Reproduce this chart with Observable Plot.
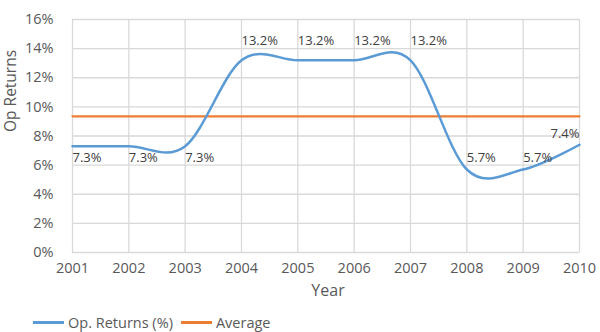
<!DOCTYPE html>
<html>
<head>
<meta charset="utf-8">
<script src="https://cdn.jsdelivr.net/npm/d3@7"></script>
<script src="https://cdn.jsdelivr.net/npm/@observablehq/plot@0.6"></script>
<style>
  body { margin: 0; background: #fff; font-family: "Open Sans", sans-serif; }
  #chart svg { display: block; }
  .legend { display: flex; align-items: center; height: 20px; padding-left: 33px; font-size: 14.5px; color: #595959; }
  .legend .sw { width: 31px; height: 3px; margin-right: 4px; }
  .legend .item { display: flex; align-items: center; margin-right: 8px; }
</style>
</head>
<body>
<div id="chart"></div>
<div class="legend">
  <div class="item"><div class="sw" style="background:#5B9BD5"></div><span>Op. Returns (%)</span></div>
  <div class="item"><div class="sw" style="background:#ED7D31"></div><span>Average</span></div>
</div>
<script>
const years = [2001, 2002, 2003, 2004, 2005, 2006, 2007, 2008, 2009, 2010];
const returns = [7.3, 7.3, 7.3, 13.2, 13.2, 13.2, 13.2, 5.7, 5.7, 7.4];
const valueLabels = ["7.3%", "7.3%", "7.3%", "13.2%", "13.2%", "13.2%", "13.2%", "5.7%", "5.7%", "7.4%"];
const average = 9.35;
const yTicks = [0, 2, 4, 6, 8, 10, 12, 14, 16];

const data = years.map((year, i) => ({year, value: returns[i], label: valueLabels[i], i}));
const avgData = years.map(year => ({year, value: average}));

const textFill = "#404040";
const grid = "#d9d9d9";

const chart = Plot.plot({
  width: 600,
  height: 312,
  marginLeft: 72,
  marginRight: 21,
  marginTop: 19,
  marginBottom: 60,
  style: {fontFamily: "Open Sans, sans-serif", fontSize: "14.5px", color: "#595959", background: "#fff"},
  x: {domain: [2001, 2010]},
  y: {domain: [0, 16]},
  marks: [
    Plot.ruleX(years, {stroke: grid, strokeWidth: 1.3}),
    Plot.ruleY(yTicks, {stroke: grid, strokeWidth: 1.3}),
    Plot.axisX(years, {tickSize: 0, tickPadding: 10, tickFormat: d => String(d), label: null}),
    Plot.axisY(yTicks, {tickSize: 0, tickPadding: 19, tickFormat: d => d + "%", label: null}),
    Plot.line(avgData, {x: "year", y: "value", stroke: "#ED7D31", strokeWidth: 2.2}),
    Plot.line(data, {x: "year", y: "value", stroke: "#5B9BD5", strokeWidth: 2.5, curve: "cardinal", tension: 0}),
    Plot.text(data.filter(d => d.i <= 2), {x: "year", y: "value", text: "label", textAnchor: "start", dy: 12, fill: textFill, fontSize: 13}),
    Plot.text(data.filter(d => d.i >= 3 && d.i <= 6), {x: "year", y: "value", text: "label", textAnchor: "start", dy: -19, fill: textFill, fontSize: 13}),
    Plot.text(data.filter(d => d.i >= 7 && d.i <= 8), {x: "year", y: "value", text: "label", textAnchor: "start", dy: -12, fill: textFill, fontSize: 13}),
    Plot.text(data.filter(d => d.i === 9), {x: "year", y: "value", text: "label", textAnchor: "end", dy: -11, fill: textFill, fontSize: 13}),
    Plot.text(["Op Returns"], {frameAnchor: "left", rotate: -90, dx: -61, dy: -4, fontSize: 15.5, fill: "#595959"}),
    Plot.text(["Year"], {frameAnchor: "bottom", dx: 2, dy: 43, fontSize: 16, fill: "#595959"})
  ]
});
document.getElementById("chart").appendChild(chart);
</script>
</body>
</html>
